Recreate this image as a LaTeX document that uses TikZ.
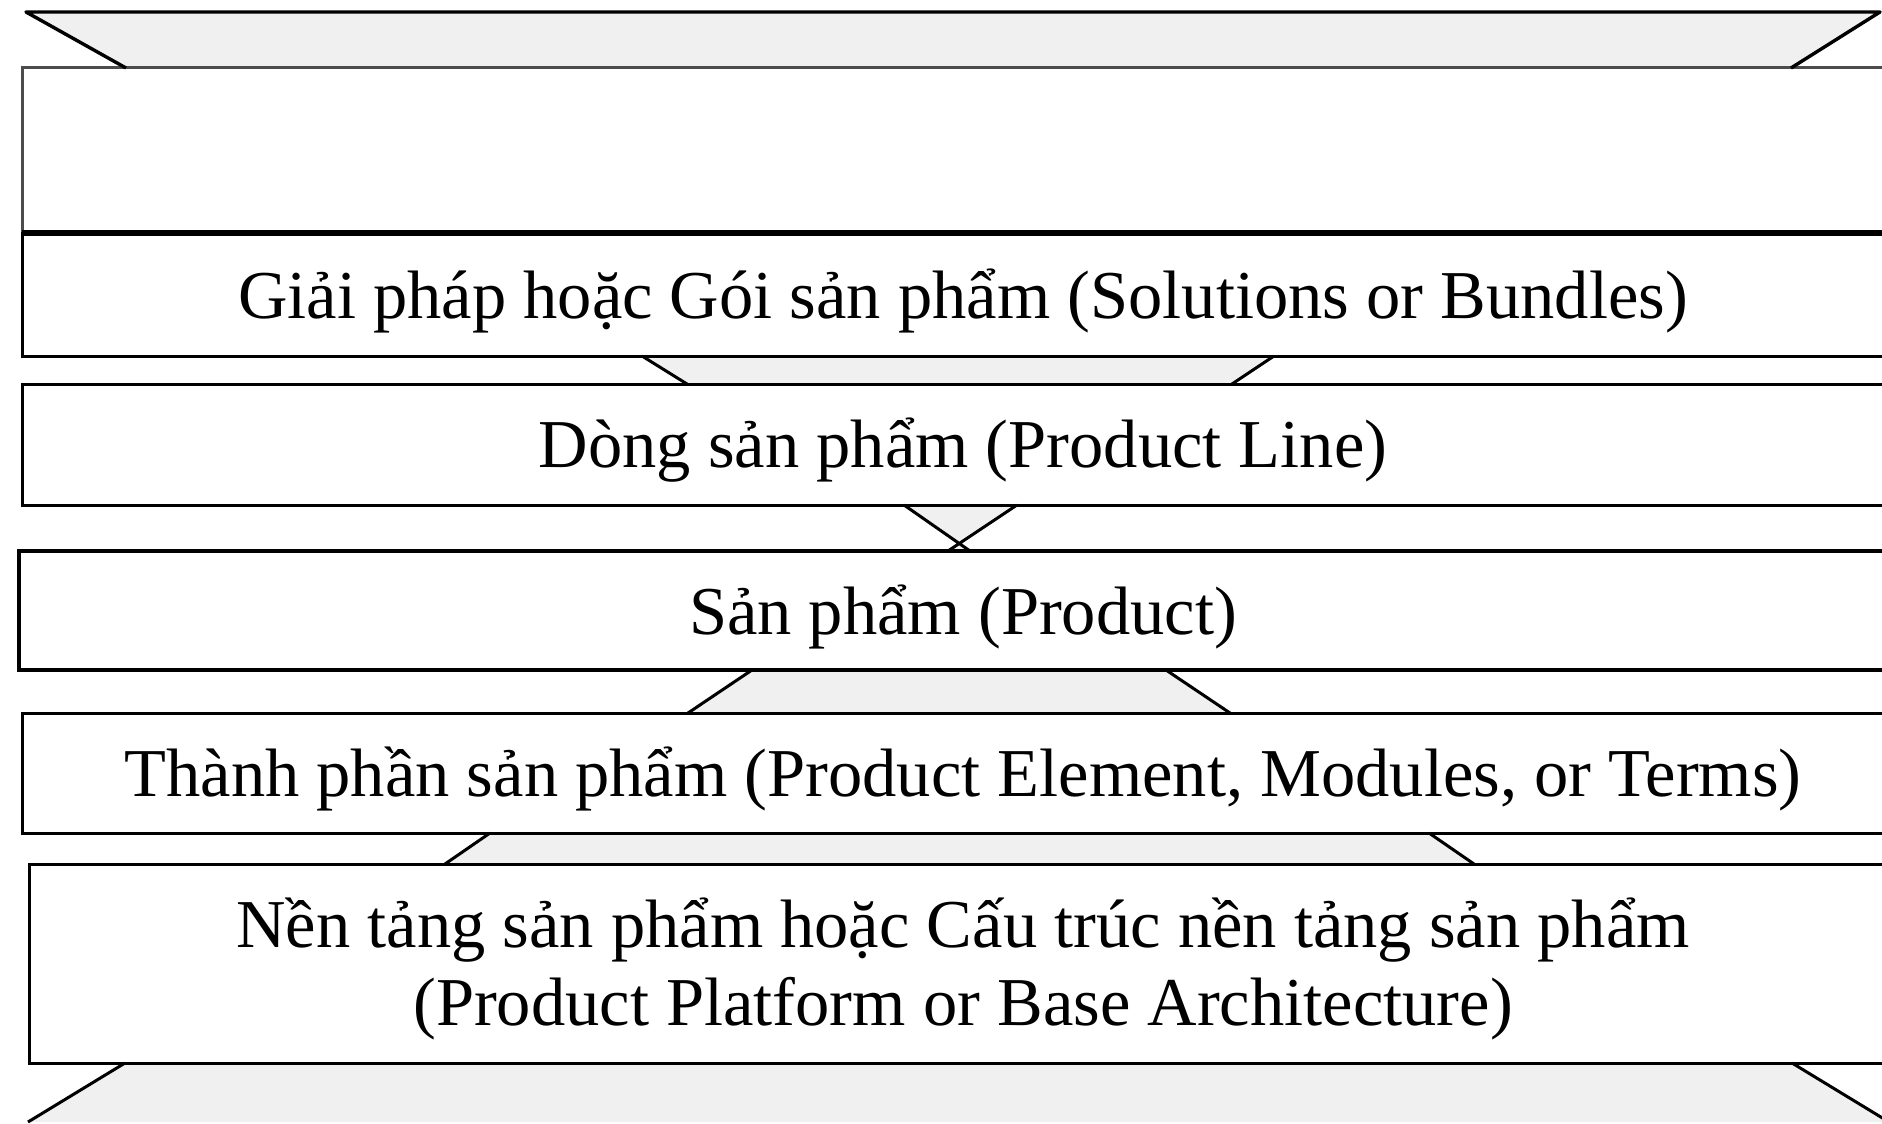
\documentclass[tikz,border=0pt]{standalone}
\usepackage{fontspec}
\setmainfont{Liberation Serif}
\usetikzlibrary{calc,backgrounds}
\definecolor{trapgray}{RGB}{240,240,240}
\newcommand\lowtext[1]{\raisebox{-6pt}[\height][\depth]{#1}}
\begin{document}
\begin{tikzpicture}[x=1pt,y=-1pt,
  box/.style={draw=black,line width=3pt,fill=white,rectangle,inner sep=0pt,outer sep=0pt,
    minimum width=1882pt,align=center,font=\fontsize{68.5}{78}\selectfont},
  trapfill/.style={fill=trapgray},
  trapline/.style={draw=black,line width=3pt,line join=round}]
\useasboundingbox (0,0) rectangle (1882,1124);
\clip (0,0) rectangle (1882,1124);
\coordinate (tl) at (26,12);
\coordinate (tr) at (1880,12);
\coordinate (bl) at (28,1122);
\coordinate (br) at (1889,1122);
\node[box,minimum height=165pt,draw=black!70] (b1) at (963,150.5) {};
\node[box,minimum height=123pt] (b2) at (963,294.5) {\lowtext{Giải pháp hoặc Gói sản phẩm (Solutions or Bundles)}};
\node[box,minimum height=121pt] (b3) at (963,444.5) {\lowtext{Dòng sản phẩm (Product Line)}};
\node[box,minimum height=119pt,minimum width=1888pt,line width=3.4pt] (b4) at (963,610.5) {\lowtext{Sản phẩm (Product)}};
\node[box,minimum height=120pt] (b5) at (963,773) {\lowtext{Thành phần sản phẩm (Product Element, Modules, or Terms)}};
\node[box,minimum height=199pt,minimum width=1868pt] (b6) at (963,963.5) {\raisebox{-7pt}[\height][\depth]{\begin{tabular}{@{}c@{}}Nền tảng sản phẩm hoặc Cấu trúc nền tảng sản phẩm\\(Product Platform or Base Architecture)\end{tabular}}};
\draw[line width=6pt] (b1.south west) -- (b1.south east);
\newcommand\trapz[6]{%
  \begin{pgfonlayer}{background}
  \fill[trapfill] ($(#1.south)+(#3,0)$) -- ($(#1.south)+(#4,0)$) -- ($(#2.north)+(#6,0)$) -- ($(#2.north)+(#5,0)$) -- cycle;
  \end{pgfonlayer}
  \draw[trapline] ($(#1.south)+(#3,0)$) -- ($(#2.north)+(#5,0)$)
                  ($(#1.south)+(#4,0)$) -- ($(#2.north)+(#6,0)$);}
\begin{pgfonlayer}{background}
\fill[trapfill] (tl) -- (tr) -- ($(b1.north)+(828,0)$) -- ($(b1.north)+(-837,0)$) -- cycle;
\fill[trapfill] ($(b6.south)+(-838,0)$) -- ($(b6.south)+(829,0)$) -- (br) -- (bl) -- cycle;
\end{pgfonlayer}
\draw[trapline,line width=3.4pt] ($(b1.north)+(-837,0)$) -- (tl) -- (tr) -- ($(b1.north)+(828,0)$);
\trapz{b2}{b3}{-321}{311}{-276}{269}
\trapz{b3}{b4}{-59}{54}{7}{-15}
\trapz{b4}{b5}{-211}{203}{-275}{267}
\trapz{b5}{b6}{-473}{466}{-518}{511}
\draw[trapline] ($(b6.south)+(-838,0)$) -- (bl)
                ($(b6.south)+(829,0)$) -- (br);
\end{tikzpicture}
\end{document}
